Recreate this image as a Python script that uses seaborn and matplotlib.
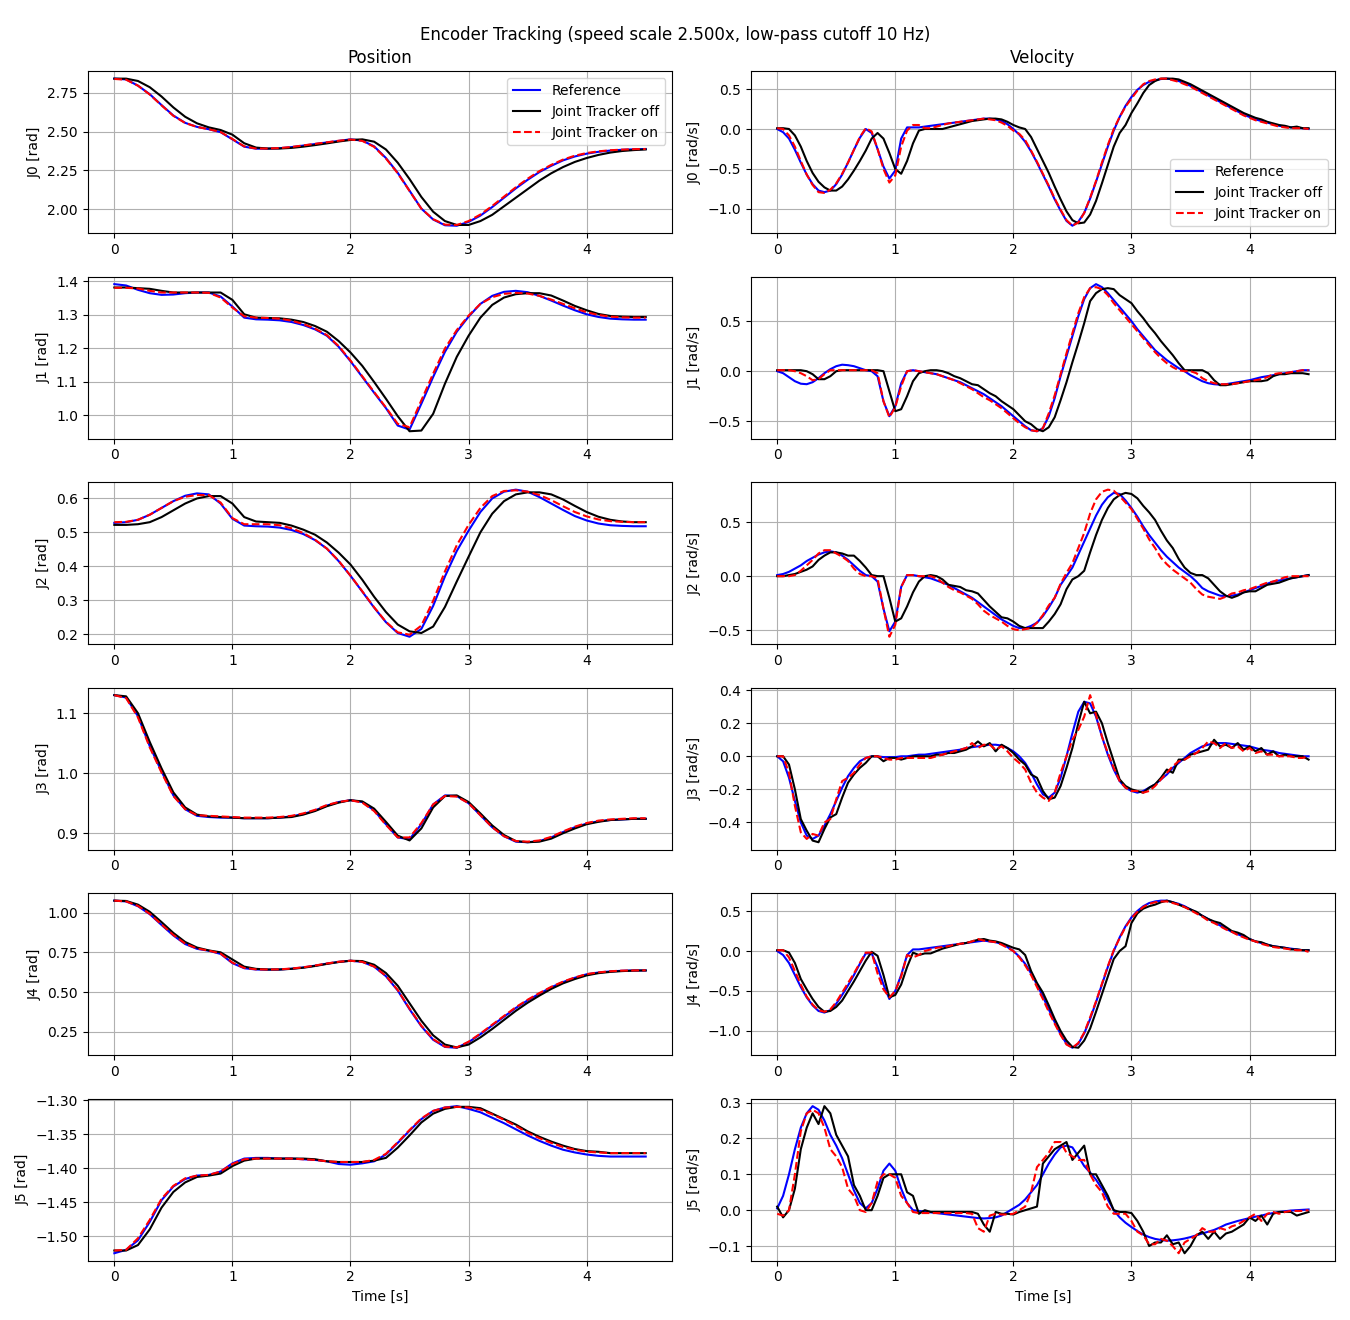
import numpy as np
import matplotlib
matplotlib.use("Agg")
import matplotlib.pyplot as plt
import seaborn as sns

# sample times (position read every 0.1 s, velocity every 0.05 s)
t_pos = np.round(np.arange(46) * 0.1, 2)
t_vel = np.round(np.arange(91) * 0.05, 2)

# ---------------- positions [rad] ----------------
j0_pos_ref = [2.840, 2.835, 2.795, 2.740, 2.670, 2.603, 2.556, 2.530, 2.515, 2.496,
              2.450, 2.403, 2.390, 2.390, 2.393, 2.400, 2.410, 2.420, 2.430, 2.440,
              2.450, 2.442, 2.405, 2.330, 2.235, 2.120, 2.005, 1.935, 1.898, 1.895,
              1.920, 1.960, 2.015, 2.075, 2.135, 2.190, 2.240, 2.280, 2.315, 2.340,
              2.358, 2.370, 2.378, 2.383, 2.386, 2.388]
j0_pos_off = [2.840, 2.840, 2.825, 2.785, 2.725, 2.655, 2.595, 2.553, 2.527, 2.510,
              2.480, 2.425, 2.397, 2.391, 2.391, 2.395, 2.403, 2.413, 2.424, 2.436,
              2.446, 2.450, 2.435, 2.385, 2.300, 2.195, 2.080, 1.985, 1.925, 1.900,
              1.900, 1.925, 1.965, 2.020, 2.075, 2.130, 2.185, 2.232, 2.272, 2.305,
              2.330, 2.350, 2.365, 2.375, 2.381, 2.385]
j0_pos_on = [2.838, 2.833, 2.795, 2.738, 2.668, 2.601, 2.555, 2.530, 2.515, 2.497,
             2.452, 2.405, 2.391, 2.391, 2.394, 2.401, 2.411, 2.421, 2.431, 2.441,
             2.449, 2.440, 2.402, 2.327, 2.232, 2.118, 2.005, 1.937, 1.902, 1.900,
             1.925, 1.967, 2.022, 2.082, 2.142, 2.197, 2.246, 2.286, 2.320, 2.345,
             2.362, 2.373, 2.380, 2.384, 2.387, 2.388]

j1_pos_ref = [1.392, 1.388, 1.375, 1.365, 1.360, 1.361, 1.365, 1.367, 1.367, 1.355,
              1.325, 1.292, 1.287, 1.286, 1.284, 1.279, 1.270, 1.257, 1.238, 1.205,
              1.162, 1.115, 1.068, 1.022, 0.970, 0.958, 1.035, 1.115, 1.190, 1.250,
              1.295, 1.333, 1.357, 1.369, 1.372, 1.368, 1.357, 1.343, 1.328, 1.314,
              1.302, 1.294, 1.289, 1.287, 1.286, 1.286]
j1_pos_off = [1.382, 1.382, 1.380, 1.378, 1.372, 1.367, 1.367, 1.367, 1.367, 1.367,
              1.345, 1.302, 1.292, 1.291, 1.290, 1.286, 1.279, 1.267, 1.250, 1.222,
              1.188, 1.148, 1.100, 1.050, 0.998, 0.953, 0.955, 1.005, 1.095, 1.175,
              1.238, 1.292, 1.330, 1.352, 1.362, 1.365, 1.365, 1.358, 1.343, 1.327,
              1.314, 1.303, 1.297, 1.295, 1.294, 1.294]
j1_pos_on = [1.381, 1.381, 1.379, 1.372, 1.367, 1.367, 1.367, 1.367, 1.366, 1.352,
             1.322, 1.296, 1.292, 1.291, 1.289, 1.283, 1.273, 1.259, 1.240, 1.207,
             1.164, 1.117, 1.070, 1.024, 0.975, 0.965, 1.045, 1.125, 1.200, 1.255,
             1.298, 1.333, 1.353, 1.363, 1.366, 1.364, 1.357, 1.346, 1.333, 1.320,
             1.308, 1.300, 1.295, 1.293, 1.292, 1.292]

j2_pos_ref = [0.528, 0.530, 0.537, 0.552, 0.572, 0.592, 0.608, 0.615, 0.612, 0.585,
              0.540, 0.520, 0.518, 0.517, 0.514, 0.507, 0.495, 0.477, 0.452, 0.415,
              0.372, 0.325, 0.278, 0.235, 0.203, 0.192, 0.215, 0.283, 0.370, 0.445,
              0.505, 0.560, 0.600, 0.620, 0.626, 0.620, 0.604, 0.585, 0.566, 0.548,
              0.535, 0.526, 0.521, 0.519, 0.518, 0.518]
j2_pos_off = [0.522, 0.522, 0.524, 0.530, 0.545, 0.565, 0.585, 0.600, 0.607, 0.607,
              0.585, 0.545, 0.532, 0.530, 0.528, 0.520, 0.508, 0.493, 0.470, 0.440,
              0.405, 0.360, 0.310, 0.265, 0.228, 0.208, 0.203, 0.222, 0.280, 0.355,
              0.428, 0.500, 0.555, 0.592, 0.612, 0.618, 0.618, 0.612, 0.597, 0.578,
              0.560, 0.546, 0.537, 0.532, 0.530, 0.530]
j2_pos_on = [0.530, 0.531, 0.537, 0.552, 0.572, 0.592, 0.605, 0.610, 0.610, 0.588,
             0.542, 0.524, 0.524, 0.524, 0.521, 0.512, 0.498, 0.478, 0.452, 0.416,
             0.372, 0.326, 0.279, 0.236, 0.205, 0.198, 0.225, 0.298, 0.385, 0.462,
             0.522, 0.572, 0.607, 0.622, 0.624, 0.620, 0.610, 0.595, 0.577, 0.560,
             0.547, 0.538, 0.533, 0.531, 0.530, 0.530]

j3_pos_ref = [1.130, 1.126, 1.095, 1.045, 1.003, 0.963, 0.940, 0.929, 0.927, 0.926,
              0.926, 0.925, 0.925, 0.925, 0.926, 0.928, 0.932, 0.938, 0.946, 0.952,
              0.955, 0.952, 0.938, 0.915, 0.893, 0.890, 0.915, 0.948, 0.963, 0.962,
              0.950, 0.930, 0.910, 0.895, 0.886, 0.885, 0.887, 0.893, 0.902, 0.910,
              0.916, 0.920, 0.922, 0.923, 0.924, 0.924]
j3_pos_off = [1.130, 1.128, 1.100, 1.052, 1.008, 0.968, 0.943, 0.931, 0.928, 0.927,
              0.926, 0.925, 0.925, 0.925, 0.926, 0.927, 0.931, 0.937, 0.945, 0.951,
              0.955, 0.953, 0.941, 0.919, 0.896, 0.888, 0.908, 0.943, 0.962, 0.963,
              0.952, 0.933, 0.913, 0.897, 0.887, 0.885, 0.886, 0.891, 0.900, 0.908,
              0.915, 0.919, 0.922, 0.923, 0.924, 0.924]
j3_pos_on = [1.130, 1.125, 1.093, 1.043, 1.001, 0.962, 0.940, 0.930, 0.929, 0.928,
             0.927, 0.926, 0.926, 0.926, 0.927, 0.929, 0.933, 0.939, 0.947, 0.952,
             0.955, 0.951, 0.937, 0.914, 0.893, 0.893, 0.917, 0.948, 0.962, 0.961,
             0.950, 0.930, 0.910, 0.895, 0.887, 0.886, 0.888, 0.894, 0.903, 0.911,
             0.917, 0.921, 0.923, 0.924, 0.925, 0.925]

j4_pos_ref = [1.075, 1.070, 1.040, 0.990, 0.922, 0.856, 0.802, 0.772, 0.760, 0.740,
              0.682, 0.650, 0.642, 0.641, 0.642, 0.647, 0.655, 0.666, 0.679, 0.690,
              0.697, 0.690, 0.660, 0.600, 0.510, 0.392, 0.285, 0.200, 0.155, 0.150,
              0.185, 0.235, 0.290, 0.345, 0.400, 0.448, 0.490, 0.530, 0.563, 0.590,
              0.612, 0.623, 0.630, 0.634, 0.636, 0.636]
j4_pos_off = [1.075, 1.073, 1.050, 1.005, 0.940, 0.872, 0.815, 0.780, 0.762, 0.750,
              0.705, 0.660, 0.646, 0.642, 0.642, 0.646, 0.653, 0.664, 0.677, 0.689,
              0.697, 0.695, 0.672, 0.620, 0.540, 0.430, 0.320, 0.228, 0.170, 0.152,
              0.170, 0.215, 0.268, 0.325, 0.382, 0.433, 0.478, 0.520, 0.555, 0.582,
              0.605, 0.619, 0.627, 0.632, 0.635, 0.636]
j4_pos_on = [1.075, 1.070, 1.042, 0.992, 0.925, 0.859, 0.805, 0.774, 0.761, 0.742,
             0.685, 0.652, 0.643, 0.642, 0.643, 0.648, 0.656, 0.667, 0.680, 0.691,
             0.697, 0.690, 0.661, 0.602, 0.513, 0.396, 0.289, 0.204, 0.157, 0.152,
             0.188, 0.239, 0.295, 0.350, 0.405, 0.452, 0.494, 0.533, 0.566, 0.592,
             0.613, 0.624, 0.631, 0.635, 0.636, 0.637]

j5_pos_ref = [-1.525, -1.520, -1.506, -1.479, -1.447, -1.427, -1.416, -1.411, -1.410, -1.405,
              -1.393, -1.386, -1.385, -1.385, -1.386, -1.386, -1.387, -1.388, -1.390, -1.394,
              -1.395, -1.393, -1.390, -1.380, -1.363, -1.345, -1.328, -1.316, -1.311, -1.309,
              -1.313, -1.318, -1.326, -1.334, -1.343, -1.352, -1.360, -1.367, -1.373, -1.377,
              -1.380, -1.382, -1.383, -1.383, -1.383, -1.383]
j5_pos_off = [-1.521, -1.521, -1.513, -1.490, -1.458, -1.435, -1.421, -1.413, -1.411, -1.408,
              -1.397, -1.389, -1.386, -1.386, -1.386, -1.386, -1.386, -1.387, -1.390, -1.391,
              -1.391, -1.391, -1.389, -1.385, -1.370, -1.352, -1.333, -1.320, -1.313, -1.310,
              -1.310, -1.312, -1.320, -1.328, -1.336, -1.346, -1.354, -1.361, -1.367, -1.372,
              -1.375, -1.376, -1.378, -1.378, -1.378, -1.378]
j5_pos_on = [-1.521, -1.520, -1.503, -1.476, -1.445, -1.426, -1.415, -1.411, -1.410, -1.405,
             -1.394, -1.387, -1.386, -1.386, -1.386, -1.386, -1.387, -1.388, -1.390, -1.391,
             -1.391, -1.391, -1.388, -1.379, -1.362, -1.344, -1.327, -1.316, -1.311, -1.310,
             -1.311, -1.314, -1.321, -1.329, -1.338, -1.348, -1.356, -1.363, -1.369, -1.373,
             -1.376, -1.377, -1.378, -1.378, -1.378, -1.378]

# ---------------- velocities [rad/s] ----------------
j0_vel_ref = [0.00, -0.04, -0.12, -0.26, -0.42, -0.57, -0.69, -0.77, -0.79, -0.77,
              -0.69, -0.57, -0.42, -0.26, -0.11, 0.00, -0.05, -0.25, -0.47, -0.62,
              -0.52, -0.12, 0.02, 0.02, 0.02, 0.03, 0.04, 0.05, 0.06, 0.07,
              0.08, 0.09, 0.10, 0.11, 0.12, 0.13, 0.13, 0.12, 0.10, 0.06,
              0.00, -0.07, -0.16, -0.28, -0.42, -0.57, -0.72, -0.88, -1.02, -1.15,
              -1.21, -1.16, -1.05, -0.87, -0.66, -0.44, -0.22, -0.02, 0.15, 0.29,
              0.40, 0.49, 0.55, 0.59, 0.61, 0.625, 0.63, 0.62, 0.60, 0.57,
              0.54, 0.50, 0.46, 0.42, 0.38, 0.34, 0.30, 0.26, 0.22, 0.18,
              0.15, 0.12, 0.10, 0.08, 0.06, 0.04, 0.03, 0.02, 0.015, 0.01,
              0.00]
j0_vel_off = [0.01, 0.01, 0.00, -0.08, -0.22, -0.40, -0.55, -0.66, -0.73, -0.77,
              -0.77, -0.72, -0.63, -0.52, -0.40, -0.27, -0.12, -0.05, -0.12, -0.30,
              -0.50, -0.56, -0.40, -0.18, -0.02, 0.00, 0.00, 0.00, 0.00, 0.02,
              0.04, 0.06, 0.08, 0.10, 0.11, 0.12, 0.13, 0.13, 0.12, 0.09,
              0.05, 0.02, 0.00, -0.10, -0.25, -0.40, -0.55, -0.72, -0.88, -1.03,
              -1.14, -1.18, -1.17, -1.07, -0.90, -0.68, -0.45, -0.22, -0.05, 0.05,
              0.20, 0.32, 0.45, 0.55, 0.60, 0.63, 0.63, 0.63, 0.62, 0.59,
              0.56, 0.52, 0.48, 0.44, 0.40, 0.36, 0.32, 0.28, 0.24, 0.20,
              0.17, 0.14, 0.12, 0.09, 0.07, 0.05, 0.04, 0.02, 0.03, 0.01,
              0.01]
j0_vel_on = [0.01, 0.00, -0.08, -0.22, -0.40, -0.57, -0.70, -0.79, -0.80, -0.76,
             -0.68, -0.56, -0.42, -0.26, -0.10, 0.01, -0.03, -0.25, -0.50, -0.67,
             -0.58, -0.22, -0.02, 0.05, 0.05, 0.01, 0.01, 0.03, 0.05, 0.07,
             0.08, 0.09, 0.10, 0.11, 0.12, 0.13, 0.12, 0.11, 0.08, 0.04,
             -0.02, -0.06, -0.14, -0.27, -0.41, -0.56, -0.71, -0.87, -1.01, -1.14,
             -1.21, -1.17, -1.05, -0.86, -0.65, -0.42, -0.20, 0.00, 0.15, 0.28,
             0.38, 0.48, 0.56, 0.60, 0.62, 0.63, 0.63, 0.61, 0.59, 0.56,
             0.53, 0.49, 0.45, 0.41, 0.37, 0.33, 0.29, 0.25, 0.21, 0.17,
             0.14, 0.11, 0.09, 0.07, 0.05, 0.03, 0.02, 0.01, 0.01, 0.01,
             0.00]

j1_vel_ref = [0.00, -0.02, -0.06, -0.10, -0.125, -0.13, -0.11, -0.07, -0.02, 0.02,
              0.05, 0.065, 0.06, 0.05, 0.03, 0.01, 0.00, -0.05, -0.30, -0.45,
              -0.35, -0.12, 0.00, 0.01, 0.00, -0.01, -0.02, -0.03, -0.05, -0.07,
              -0.09, -0.11, -0.14, -0.17, -0.20, -0.23, -0.27, -0.31, -0.35, -0.40,
              -0.45, -0.50, -0.55, -0.59, -0.60, -0.57, -0.45, -0.27, -0.05, 0.15,
              0.35, 0.55, 0.72, 0.83, 0.87, 0.84, 0.78, 0.71, 0.64, 0.57,
              0.50, 0.42, 0.35, 0.28, 0.21, 0.16, 0.11, 0.07, 0.03, 0.00,
              -0.04, -0.07, -0.10, -0.12, -0.13, -0.135, -0.13, -0.12, -0.11, -0.10,
              -0.09, -0.075, -0.06, -0.05, -0.04, -0.03, -0.02, -0.01, 0.00, 0.01,
              0.01]
j1_vel_off = [0.01, 0.01, 0.01, 0.01, 0.01, 0.00, -0.03, -0.08, -0.08, -0.05,
              0.00, 0.01, 0.01, 0.01, 0.01, 0.01, 0.01, 0.01, 0.00, -0.20,
              -0.40, -0.38, -0.25, -0.10, -0.02, 0.00, 0.01, 0.01, 0.00, -0.02,
              -0.05, -0.07, -0.10, -0.13, -0.14, -0.18, -0.22, -0.25, -0.30, -0.34,
              -0.38, -0.44, -0.50, -0.53, -0.58, -0.60, -0.56, -0.46, -0.29, -0.11,
              0.09, 0.28, 0.48, 0.70, 0.78, 0.82, 0.83, 0.82, 0.76, 0.72,
              0.68, 0.60, 0.53, 0.45, 0.38, 0.30, 0.23, 0.16, 0.08, 0.01,
              0.01, 0.01, 0.01, -0.02, -0.09, -0.14, -0.14, -0.13, -0.12, -0.11,
              -0.10, -0.10, -0.10, -0.09, -0.05, -0.03, -0.03, -0.02, -0.02, -0.02,
              -0.03]
j1_vel_on = [0.01, 0.01, 0.01, 0.00, -0.02, -0.05, -0.09, -0.08, -0.03, 0.01,
             0.01, 0.01, 0.01, 0.01, 0.01, 0.01, 0.01, -0.02, -0.30, -0.46,
             -0.36, -0.15, 0.00, 0.01, 0.00, -0.01, -0.02, -0.03, -0.05, -0.07,
             -0.09, -0.12, -0.15, -0.18, -0.22, -0.26, -0.29, -0.33, -0.37, -0.42,
             -0.47, -0.52, -0.56, -0.59, -0.60, -0.57, -0.42, -0.24, -0.03, 0.18,
             0.38, 0.58, 0.74, 0.83, 0.84, 0.82, 0.76, 0.68, 0.61, 0.54,
             0.47, 0.40, 0.33, 0.26, 0.19, 0.13, 0.08, 0.04, 0.01, 0.00,
             0.00, -0.02, -0.07, -0.10, -0.12, -0.13, -0.13, -0.13, -0.12, -0.11,
             -0.10, -0.09, -0.08, -0.06, -0.03, -0.02, -0.02, -0.01, 0.00, 0.01,
             0.01]

j2_vel_ref = [0.01, 0.02, 0.04, 0.07, 0.10, 0.14, 0.17, 0.20, 0.22, 0.23,
              0.22, 0.19, 0.15, 0.10, 0.05, 0.01, 0.00, -0.05, -0.30, -0.51,
              -0.42, -0.10, 0.01, 0.01, 0.00, -0.01, -0.02, -0.04, -0.06, -0.08,
              -0.11, -0.14, -0.17, -0.20, -0.24, -0.28, -0.32, -0.36, -0.40, -0.43,
              -0.46, -0.48, -0.48, -0.46, -0.43, -0.37, -0.29, -0.20, -0.08, 0.00,
              0.08, 0.20, 0.32, 0.44, 0.56, 0.66, 0.73, 0.77, 0.76, 0.70,
              0.63, 0.55, 0.46, 0.38, 0.31, 0.24, 0.18, 0.13, 0.08, 0.04,
              0.00, -0.05, -0.11, -0.14, -0.16, -0.18, -0.185, -0.18, -0.17, -0.15,
              -0.13, -0.11, -0.09, -0.07, -0.05, -0.04, -0.03, -0.02, -0.01, 0.00,
              0.01]
j2_vel_off = [0.00, 0.00, 0.01, 0.02, 0.04, 0.06, 0.09, 0.15, 0.19, 0.22,
              0.22, 0.21, 0.19, 0.19, 0.14, 0.08, 0.01, 0.00, 0.00, -0.20,
              -0.42, -0.39, -0.28, -0.15, -0.05, 0.00, 0.01, 0.00, -0.03, -0.08,
              -0.09, -0.10, -0.13, -0.14, -0.16, -0.22, -0.28, -0.33, -0.38, -0.39,
              -0.42, -0.46, -0.48, -0.48, -0.48, -0.48, -0.42, -0.35, -0.26, -0.12,
              -0.03, 0.00, 0.05, 0.22, 0.38, 0.52, 0.63, 0.71, 0.75, 0.77,
              0.76, 0.72, 0.65, 0.59, 0.52, 0.42, 0.33, 0.26, 0.16, 0.08,
              0.03, 0.01, 0.01, -0.02, -0.08, -0.14, -0.18, -0.20, -0.18, -0.15,
              -0.14, -0.14, -0.11, -0.08, -0.07, -0.06, -0.04, -0.02, -0.01, 0.00,
              0.01]
j2_vel_on = [0.00, 0.00, 0.00, 0.01, 0.05, 0.10, 0.15, 0.21, 0.24, 0.24,
             0.21, 0.18, 0.14, 0.07, 0.02, 0.00, 0.00, -0.02, -0.30, -0.56,
             -0.45, -0.10, 0.01, 0.01, 0.00, 0.00, 0.00, -0.02, -0.06, -0.10,
             -0.13, -0.15, -0.18, -0.21, -0.26, -0.32, -0.36, -0.39, -0.42, -0.46,
             -0.49, -0.50, -0.49, -0.48, -0.43, -0.36, -0.27, -0.20, -0.07, 0.03,
             0.12, 0.26, 0.40, 0.58, 0.71, 0.78, 0.80, 0.79, 0.74, 0.68,
             0.62, 0.53, 0.44, 0.34, 0.26, 0.17, 0.11, 0.06, 0.02, -0.02,
             -0.06, -0.12, -0.17, -0.19, -0.20, -0.21, -0.19, -0.16, -0.15, -0.13,
             -0.12, -0.10, -0.08, -0.06, -0.05, -0.03, -0.01, 0.00, 0.00, 0.00,
             0.00]

j3_vel_ref = [0.00, -0.03, -0.13, -0.27, -0.40, -0.48, -0.50, -0.48, -0.42, -0.35,
              -0.27, -0.19, -0.12, -0.07, -0.03, -0.01, 0.00, 0.00, -0.005, -0.005,
              -0.005, 0.00, 0.00, 0.005, 0.01, 0.01, 0.015, 0.02, 0.025, 0.03,
              0.035, 0.04, 0.05, 0.055, 0.06, 0.065, 0.07, 0.07, 0.065, 0.05,
              0.03, 0.00, -0.04, -0.10, -0.17, -0.23, -0.25, -0.22, -0.13, 0.00,
              0.14, 0.27, 0.33, 0.32, 0.24, 0.12, 0.01, -0.08, -0.15, -0.19,
              -0.21, -0.22, -0.21, -0.19, -0.17, -0.14, -0.11, -0.07, -0.04, -0.01,
              0.02, 0.04, 0.06, 0.07, 0.08, 0.08, 0.08, 0.075, 0.07, 0.065,
              0.06, 0.05, 0.04, 0.035, 0.03, 0.02, 0.015, 0.01, 0.005, 0.00,
              0.00]
j3_vel_off = [0.00, 0.00, -0.05, -0.20, -0.38, -0.45, -0.51, -0.52, -0.44, -0.37,
              -0.35, -0.25, -0.16, -0.11, -0.07, -0.04, 0.00, 0.00, -0.03, -0.01,
              -0.01, -0.02, -0.01, 0.00, 0.00, 0.00, 0.00, 0.01, 0.01, 0.02,
              0.02, 0.03, 0.04, 0.06, 0.09, 0.06, 0.08, 0.03, 0.07, 0.05,
              0.02, -0.02, -0.05, -0.11, -0.13, -0.21, -0.26, -0.25, -0.18, -0.07,
              0.05, 0.20, 0.33, 0.26, 0.27, 0.20, 0.08, -0.03, -0.14, -0.18,
              -0.20, -0.21, -0.22, -0.19, -0.17, -0.13, -0.08, -0.10, -0.02, -0.02,
              0.01, 0.02, 0.03, 0.04, 0.10, 0.06, 0.07, 0.05, 0.08, 0.04,
              0.06, 0.03, 0.05, 0.01, 0.03, 0.00, 0.01, 0.00, 0.00, 0.00,
              -0.02]
j3_vel_on = [0.00, 0.00, -0.10, -0.30, -0.46, -0.50, -0.47, -0.48, -0.40, -0.38,
             -0.26, -0.15, -0.13, -0.10, -0.05, -0.01, 0.00, 0.00, -0.01, -0.02,
             -0.02, -0.01, -0.01, -0.01, -0.01, -0.01, -0.01, 0.00, 0.01, 0.02,
             0.03, 0.04, 0.05, 0.08, 0.05, 0.07, 0.07, 0.04, 0.06, 0.03,
             -0.01, -0.04, -0.08, -0.16, -0.22, -0.25, -0.27, -0.22, -0.10, 0.00,
             0.10, 0.16, 0.24, 0.37, 0.25, 0.12, 0.02, -0.07, -0.15, -0.19,
             -0.21, -0.21, -0.22, -0.21, -0.18, -0.14, -0.10, -0.06, -0.03, -0.02,
             0.00, 0.02, 0.05, 0.09, 0.08, 0.05, 0.08, 0.05, 0.06, 0.03,
             0.05, 0.02, 0.03, 0.01, 0.01, 0.00, 0.00, 0.00, -0.01, -0.01,
             0.00]

j4_vel_ref = [0.00, -0.05, -0.15, -0.30, -0.45, -0.58, -0.68, -0.75, -0.77, -0.74,
              -0.66, -0.55, -0.43, -0.30, -0.16, -0.03, -0.03, -0.20, -0.42, -0.60,
              -0.50, -0.30, -0.05, 0.02, 0.02, 0.03, 0.04, 0.05, 0.06, 0.07,
              0.08, 0.09, 0.10, 0.11, 0.12, 0.13, 0.12, 0.11, 0.09, 0.05,
              0.00, -0.07, -0.16, -0.28, -0.42, -0.57, -0.73, -0.89, -1.04, -1.16,
              -1.21, -1.16, -1.03, -0.85, -0.64, -0.42, -0.20, 0.00, 0.17, 0.31,
              0.42, 0.50, 0.56, 0.60, 0.62, 0.63, 0.63, 0.61, 0.59, 0.56,
              0.52, 0.48, 0.44, 0.40, 0.36, 0.32, 0.28, 0.24, 0.21, 0.18,
              0.15, 0.12, 0.10, 0.08, 0.06, 0.05, 0.04, 0.03, 0.02, 0.01,
              0.01]
j4_vel_off = [0.01, 0.01, -0.02, -0.15, -0.35, -0.48, -0.60, -0.70, -0.76, -0.75,
              -0.70, -0.62, -0.50, -0.38, -0.25, -0.12, -0.01, -0.06, -0.30, -0.58,
              -0.55, -0.42, -0.20, -0.02, -0.05, -0.03, -0.03, 0.00, 0.03, 0.05,
              0.07, 0.09, 0.10, 0.12, 0.14, 0.15, 0.13, 0.12, 0.10, 0.07,
              0.04, 0.02, -0.05, -0.25, -0.40, -0.52, -0.68, -0.85, -1.00, -1.12,
              -1.20, -1.21, -1.12, -0.97, -0.76, -0.54, -0.32, -0.10, 0.00, 0.06,
              0.35, 0.47, 0.53, 0.56, 0.58, 0.61, 0.63, 0.61, 0.58, 0.55,
              0.52, 0.49, 0.44, 0.40, 0.37, 0.35, 0.30, 0.25, 0.23, 0.20,
              0.15, 0.12, 0.11, 0.08, 0.06, 0.05, 0.04, 0.02, 0.02, 0.01,
              0.01]
j4_vel_on = [0.01, 0.01, -0.08, -0.25, -0.42, -0.57, -0.67, -0.74, -0.76, -0.73,
             -0.64, -0.52, -0.40, -0.28, -0.15, -0.02, -0.02, -0.28, -0.48, -0.58,
             -0.50, -0.32, -0.05, -0.08, -0.05, 0.00, 0.02, 0.04, 0.05, 0.06,
             0.08, 0.09, 0.10, 0.12, 0.15, 0.13, 0.12, 0.11, 0.08, 0.04,
             0.00, -0.08, -0.18, -0.30, -0.45, -0.60, -0.76, -0.91, -1.05, -1.17,
             -1.21, -1.15, -1.02, -0.83, -0.63, -0.41, -0.19, 0.01, 0.16, 0.30,
             0.41, 0.49, 0.55, 0.59, 0.61, 0.62, 0.62, 0.60, 0.58, 0.55,
             0.51, 0.47, 0.43, 0.38, 0.35, 0.31, 0.27, 0.24, 0.20, 0.17,
             0.14, 0.12, 0.09, 0.07, 0.05, 0.04, 0.03, 0.02, 0.01, 0.01,
             -0.01]

j5_vel_ref = [0.005, 0.04, 0.10, 0.17, 0.23, 0.27, 0.29, 0.28, 0.25, 0.21,
              0.18, 0.145, 0.10, 0.055, 0.02, 0.005, 0.02, 0.06, 0.11, 0.13,
              0.11, 0.06, 0.02, 0.00, -0.002, -0.004, -0.006, -0.008, -0.010, -0.012,
              -0.014, -0.016, -0.018, -0.020, -0.022, -0.023, -0.022, -0.020, -0.015, -0.005,
              0.005, 0.015, 0.03, 0.05, 0.07, 0.10, 0.13, 0.155, 0.175, 0.18,
              0.175, 0.15, 0.123, 0.105, 0.085, 0.06, 0.03, 0.00, -0.02, -0.035,
              -0.047, -0.058, -0.068, -0.075, -0.080, -0.083, -0.085, -0.084, -0.082, -0.079,
              -0.075, -0.070, -0.065, -0.060, -0.055, -0.048, -0.040, -0.035, -0.030, -0.026,
              -0.022, -0.018, -0.015, -0.011, -0.008, -0.005, -0.003, -0.001, 0.000, 0.001,
              0.002]
j5_vel_off = [0.01, -0.02, 0.00, 0.06, 0.17, 0.23, 0.27, 0.24, 0.29, 0.27,
              0.21, 0.18, 0.15, 0.07, 0.04, 0.00, 0.00, 0.04, 0.09, 0.10,
              0.10, 0.10, 0.05, 0.04, -0.01, 0.00, -0.005, -0.005, -0.005, -0.005,
              -0.005, -0.005, -0.005, -0.005, -0.01, -0.04, -0.06, -0.005, -0.01, -0.01,
              -0.012, -0.005, 0.00, 0.005, 0.01, 0.13, 0.15, 0.17, 0.18, 0.19,
              0.14, 0.16, 0.18, 0.10, 0.10, 0.07, 0.04, 0.00, -0.005, -0.005,
              -0.008, -0.03, -0.06, -0.10, -0.09, -0.09, -0.07, -0.095, -0.09, -0.12,
              -0.10, -0.07, -0.06, -0.08, -0.06, -0.08, -0.065, -0.06, -0.05, -0.04,
              -0.02, -0.03, -0.015, -0.04, -0.01, -0.005, -0.005, -0.005, -0.015, -0.01,
              -0.005]
j5_vel_on = [-0.01, -0.015, 0.00, 0.10, 0.22, 0.27, 0.28, 0.27, 0.23, 0.17,
             0.15, 0.12, 0.06, 0.04, 0.00, -0.005, 0.02, 0.08, 0.10, 0.10,
             0.09, 0.04, 0.02, -0.005, -0.008, -0.008, -0.008, -0.008, -0.008, -0.008,
             -0.008, -0.008, -0.008, -0.01, -0.05, -0.06, -0.015, -0.01, -0.012, -0.012,
             -0.01, 0.00, 0.01, 0.05, 0.12, 0.14, 0.16, 0.19, 0.19, 0.16,
             0.15, 0.14, 0.14, 0.10, 0.07, 0.05, 0.01, -0.01, -0.01, -0.01,
             -0.03, -0.06, -0.07, -0.095, -0.095, -0.08, -0.085, -0.10, -0.12, -0.09,
             -0.08, -0.07, -0.05, -0.06, -0.06, -0.05, -0.055, -0.045, -0.04, -0.03,
             -0.02, -0.01, -0.03, -0.01, -0.005, -0.01, -0.005, -0.002, -0.002, -0.002,
             0.00]

joints = ["J0", "J1", "J2", "J3", "J4", "J5"]
pos_data = [(j0_pos_ref, j0_pos_off, j0_pos_on), (j1_pos_ref, j1_pos_off, j1_pos_on),
            (j2_pos_ref, j2_pos_off, j2_pos_on), (j3_pos_ref, j3_pos_off, j3_pos_on),
            (j4_pos_ref, j4_pos_off, j4_pos_on), (j5_pos_ref, j5_pos_off, j5_pos_on)]
vel_data = [(j0_vel_ref, j0_vel_off, j0_vel_on), (j1_vel_ref, j1_vel_off, j1_vel_on),
            (j2_vel_ref, j2_vel_off, j2_vel_on), (j3_vel_ref, j3_vel_off, j3_vel_on),
            (j4_vel_ref, j4_vel_off, j4_vel_on), (j5_vel_ref, j5_vel_off, j5_vel_on)]

labels = ["Reference", "Joint Tracker off", "Joint Tracker on"]
colors = ["b", "k", "r"]
styles = ["-", "-", "--"]


def draw(ax, t, series):
    for vals, lab, c, ls in zip(series, labels, colors, styles):
        sns.lineplot(x=t, y=vals, ax=ax, color=c, linestyle=ls, linewidth=1.5,
                     label=lab, legend=False)
    ax.grid(True)


fig, axes = plt.subplots(6, 2, figsize=(13.5, 13.2))
fig.subplots_adjust(left=0.065, right=0.989, top=0.946, bottom=0.045,
                    wspace=0.134, hspace=0.27)
fig.suptitle("Encoder Tracking (speed scale 2.500x, low-pass cutoff 10 Hz)")

for i, name in enumerate(joints):
    ax_p, ax_v = axes[i, 0], axes[i, 1]
    draw(ax_p, t_pos, pos_data[i])
    draw(ax_v, t_vel, vel_data[i])
    ax_p.set_ylabel(f"{name} [rad]")
    ax_v.set_ylabel(f"{name} [rad/s]")
    ax_p.set_xlabel("")
    ax_v.set_xlabel("")

axes[0, 0].set_title("Position")
axes[0, 1].set_title("Velocity")
axes[0, 0].legend(loc="upper right")
axes[0, 1].legend(loc="lower right")
axes[-1, 0].set_xlabel("Time [s]")
axes[-1, 1].set_xlabel("Time [s]")

fig.savefig("out.png", dpi=100)
